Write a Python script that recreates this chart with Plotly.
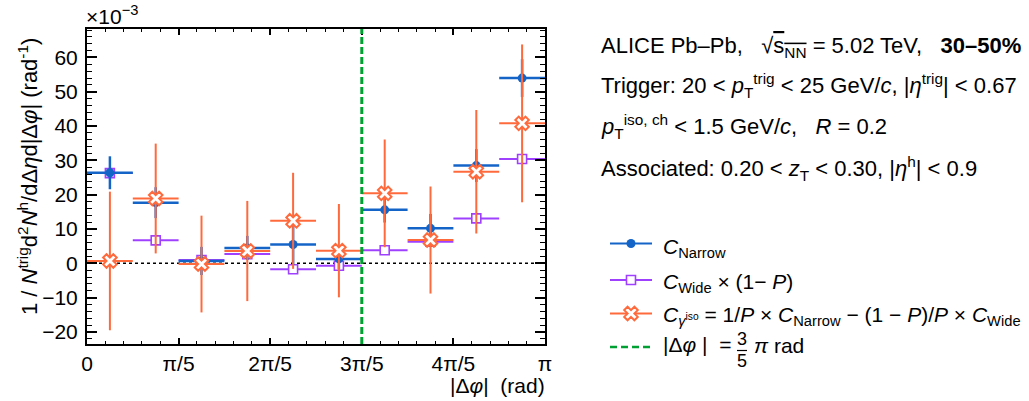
import numpy as np
import plotly.graph_objects as go

W, H = 1029, 401

# ---- data (values x 1e-3) ----
bin_centers = np.pi * np.array([0.05, 0.15, 0.25, 0.35, 0.45, 0.55, 0.65, 0.75, 0.85, 0.95])
bin_halfwidth = np.pi * np.array([0.05] * 10)

c_narrow = [26.4, 17.7, 0.7, 4.5, 5.5, 1.3, 15.6, 10.2, 28.5, 54.0]
c_narrow_err = [4.8, 4.5, 4.1, 3.5, 6.0, 3.0, 3.7, 4.2, 4.8, 5.5]

c_wide = [26.3, 6.7, 1.0, 2.7, -1.7, -0.7, 3.8, 6.3, 13.1, 30.4]
c_wide_err = [0.5] * 10

c_iso = [0.7, 18.9, -0.2, 3.6, 12.4, 3.7, 20.4, 6.8, 26.7, 40.8]
c_iso_err = [20.2, 16.0, 14.1, 14.6, 14.0, 13.6, 15.7, 15.6, 18.0, 23.0]

x_tickvals = [0, np.pi / 5, 2 * np.pi / 5, 3 * np.pi / 5, 4 * np.pi / 5, np.pi]
x_ticktext = ["0", "π/5", "2π/5", "3π/5", "4π/5", "π"]
dphi_cut = 3 * np.pi / 5

BLUE = "#1464C8"
PURPLE = "#A040FF"
ORANGE = "#FF6A3D"
GREEN = "#00A032"
FONT = "Liberation Sans, Arial, sans-serif"

# plot frame in pixels
L, R, T, B = 87, 545, 29, 344


def px(x):
    return x / W


def py(y):
    return 1 - y / H


fig = go.Figure()

# purple
fig.add_trace(go.Scatter(
    x=bin_centers, y=c_wide, mode="markers",
    marker=dict(symbol="square", size=9, color="white", line=dict(color=PURPLE, width=1.6)),
    error_x=dict(type="data", array=bin_halfwidth, color=PURPLE, thickness=2, width=0),
    error_y=dict(type="data", array=c_wide_err, color=PURPLE, thickness=2, width=0),
    showlegend=False, cliponaxis=False))
# blue
fig.add_trace(go.Scatter(
    x=bin_centers, y=c_narrow, mode="markers",
    marker=dict(symbol="circle", size=9, color=BLUE),
    error_x=dict(type="data", array=bin_halfwidth, color=BLUE, thickness=2.5, width=0),
    error_y=dict(type="data", array=c_narrow_err, color=BLUE, thickness=2.5, width=0),
    showlegend=False, cliponaxis=False))
# orange
fig.add_trace(go.Scatter(
    x=bin_centers, y=c_iso, mode="markers",
    marker=dict(symbol="x", size=12, color="white", line=dict(color=ORANGE, width=2)),
    error_x=dict(type="data", array=bin_halfwidth, color=ORANGE, thickness=2, width=0),
    error_y=dict(type="data", array=c_iso_err, color=ORANGE, thickness=2, width=0),
    showlegend=False, cliponaxis=False))

# legend glyph markers on an overlay pixel axis
leg_y = [243.5, 280, 313.5, 347]
fig.add_trace(go.Scatter(x=[631], y=[leg_y[0]], xaxis="x2", yaxis="y2", mode="markers",
                         marker=dict(symbol="circle", size=9, color=BLUE), showlegend=False, cliponaxis=False))
fig.add_trace(go.Scatter(x=[631], y=[leg_y[1]], xaxis="x2", yaxis="y2", mode="markers",
                         marker=dict(symbol="square", size=9, color="white", line=dict(color=PURPLE, width=1.6)),
                         showlegend=False, cliponaxis=False))
fig.add_trace(go.Scatter(x=[631], y=[leg_y[2]], xaxis="x2", yaxis="y2", mode="markers",
                         marker=dict(symbol="x", size=12, color="white", line=dict(color=ORANGE, width=2)),
                         showlegend=False, cliponaxis=False))

shapes = []
# zero line dotted
shapes.append(dict(type="line", xref="x", yref="y", x0=0, x1=np.pi, y0=0, y1=0, layer="below",
                   line=dict(color="black", width=1.5, dash="dot")))
# green vertical dashed line
shapes.append(dict(type="line", xref="x", yref="paper", x0=dphi_cut, x1=dphi_cut,
                   y0=py(B), y1=py(T), line=dict(color=GREEN, width=3, dash="7px,3px")))
# legend lines
for yy, col, dash in zip(leg_y, [BLUE, PURPLE, ORANGE, GREEN], ["solid", "solid", "solid", "7px,4px"]):
    shapes.append(dict(type="line", xref="paper", yref="paper", x0=px(610), x1=px(652), layer="below",
                       y0=py(yy), y1=py(yy), line=dict(color=col, width=2.5 if col == GREEN else 2, dash=dash)))
# fraction bar for 3/5
shapes.append(dict(type="line", xref="paper", yref="paper", x0=px(737), x1=px(747),
                   y0=py(350.5), y1=py(350.5), line=dict(color="black", width=1.2)))

ann = []


def A(x, y, text, size=22, xanchor="left", yanchor="middle", **kw):
    ann.append(dict(x=px(x), y=py(y), xref="paper", yref="paper", text=text, showarrow=False,
                    borderpad=0, xanchor=xanchor, yanchor=yanchor,
                    font=dict(family=FONT, size=size, color="black"), **kw))


# x10^-3
A(85, 15, "×10<sup>−3</sup>", size=21)
# y title
A(28, 177, "1 / <i>N</i><sup>trig</sup>d<sup>2</sup><i>N</i><sup>h</sup>/dΔ<i>η</i>d|Δ<i>φ</i>| (rad<sup>-1</sup>)",
  size=22, xanchor="center", textangle=-90)
# x title
A(546, 385, "|Δ<i>φ</i>|  (rad)", size=21, xanchor="right")

# info text
A(600, 47, "ALICE Pb–Pb,   √<span style=\"text-decoration:overline\">s<sub>NN</sub></span> = 5.02 TeV,   <b>30–50%</b>")
A(600, 86, "Trigger: 20 &lt; <i>p</i><sub>T</sub><sup>trig</sup> &lt; 25 GeV/<i>c</i>, |<i>η</i><sup>trig</sup>| &lt; 0.67")
A(600, 127, "<i>p</i><sub>T</sub><sup>iso, ch</sup> &lt; 1.5 GeV/<i>c</i>,   <i>R</i> = 0.2")
A(600, 168, "Associated: 0.20 &lt; <i>z</i><sub>T</sub> &lt; 0.30, |<i>η</i><sup>h</sup>| &lt; 0.9")

# legend texts
A(662, 248, "<i>C</i><sub>Narrow</sub>", size=21)
A(662, 283, "<i>C</i><sub>Wide</sub> × (1− <i>P</i>)", size=21)
A(662, 316, "<i>C</i><sub><i>γ</i><sup>iso</sup></sub> = 1/<i>P</i> × <i>C</i><sub>Narrow</sub> − (1 − <i>P</i>)/<i>P</i> × <i>C</i><sub>Wide</sub>", size=21)
A(662, 344, "|Δ<i>φ</i> |  =", size=21)
A(742, 339, "3", size=18, xanchor="center")
A(742, 361, "5", size=18, xanchor="center")
A(753, 345, "<i>π</i> rad", size=21)

axis_common = dict(showline=True, linecolor="black", linewidth=2, mirror="allticks",
                   ticks="inside", tickcolor="black", tickwidth=1.5,
                   showgrid=False, zeroline=False, automargin=False,
                   tickfont=dict(family=FONT, size=21, color="black"))

fig.update_layout(
    width=W, height=H,
    margin=dict(l=0, r=0, t=0, b=0),
    paper_bgcolor="white", plot_bgcolor="rgba(0,0,0,0)",
    font=dict(family=FONT, size=21, color="black"),
    showlegend=False,
    xaxis=dict(domain=[px(L), px(R)], range=[0, np.pi], tickvals=x_tickvals, ticktext=x_ticktext,
               ticklen=6, ticklabelstandoff=0,
               minor=dict(ticks="inside", ticklen=3, tickvals=list(np.pi * np.arange(0, 1.0001, 0.04)),
                          tickcolor="black", tickwidth=1.2),
               anchor="y", **axis_common),
    yaxis=dict(domain=[py(B), py(T)], range=[-23.5, 68.3], tickvals=[-20, -10, 0, 10, 20, 30, 40, 50, 60],
               ticklen=10, ticklabelstandoff=3,
               minor=dict(ticks="inside", ticklen=5, dtick=2, tickcolor="black", tickwidth=1.2),
               anchor="x", **axis_common),
    xaxis2=dict(domain=[0, 1], range=[0, W], visible=False, anchor="y2", fixedrange=True),
    yaxis2=dict(domain=[0, 1], range=[H, 0], visible=False, anchor="x2", fixedrange=True),
    shapes=shapes,
    annotations=ann,
)

fig.write_html("out.html")
